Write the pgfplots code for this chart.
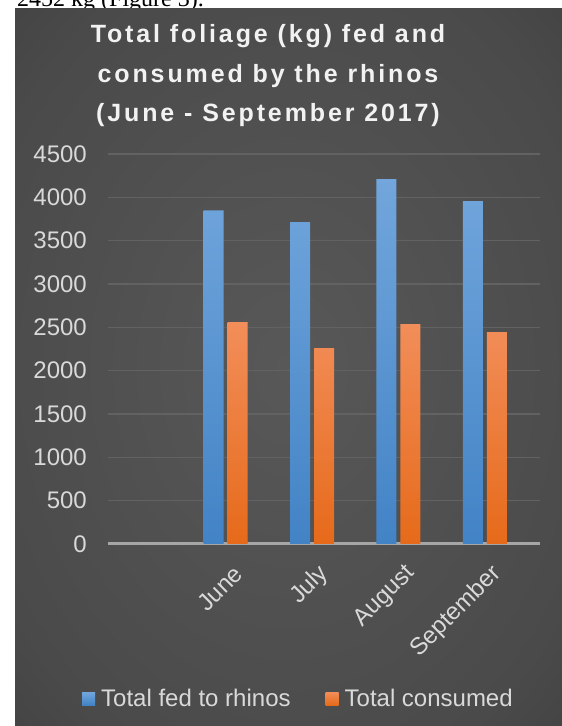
\documentclass[border=0pt]{standalone}
\usepackage{fontspec}
\setmainfont{Liberation Sans}
\newfontfamily\seriffont{Liberation Serif}
\newfontfamily\titlefont{Liberation Sans}[LetterSpace=11.5]
\usepackage{pgfplots}
\pgfplotsset{compat=1.18}
\definecolor{bg0}{RGB}{88,88,88}
\definecolor{bg1}{RGB}{74,74,74}
\definecolor{bg2}{RGB}{54,54,54}
\definecolor{bg3}{RGB}{40,40,40}
\definecolor{txt}{RGB}{217,217,217}
\definecolor{gridc}{RGB}{98,98,98}
\definecolor{axisc}{RGB}{166,166,166}
\definecolor{blueT}{RGB}{114,166,220}
\definecolor{blueB}{RGB}{66,131,198}
\definecolor{orT}{RGB}{242,142,90}
\definecolor{orB}{RGB}{230,106,26}
\pgfdeclareradialshading{chartbg}{\pgfpoint{0bp}{0bp}}{color(0bp)=(bg0); color(30bp)=(bg1); color(50bp)=(bg2); color(72bp)=(bg3)}
\begin{document}
\begin{tikzpicture}[x=1pt,y=1pt]
\fill[white] (0,0) rectangle (562,726);
\begin{scope}
\clip (0,0) rectangle (562,726);
\node[anchor=base west, inner sep=0pt, font=\seriffont\fontsize{24}{28}\selectfont] at (17,719) {2452 kg (Figure 3).};
\end{scope}
\shade[shading=chartbg] (15,0) rectangle (562,717);
\begin{scope}[every node/.style={anchor=base, inner sep=0pt, text=white!95!black, font=\titlefont\bfseries\fontsize{25}{30}\selectfont}]
\node at (268,683) {Total foliage (kg) fed and};
\node at (268,643.5) {consumed by the rhinos};
\node at (268,604) {(June - September 2017)};
\end{scope}
\begin{axis}[
  width=432pt, height=390pt, scale only axis,
  at={(108pt,182pt)}, anchor=south west,
  xmin=-0.5, xmax=4.5, ymin=0, ymax=4500,
  xtick={1,2,3,4}, xticklabels={June,July,August,September},
  ytick={0,500,...,4500},
  axis x line*=bottom, axis y line*=left,
  x axis line style={axisc, line width=3pt, -},
  y axis line style={draw=none},
  major tick length=0pt, tick style={draw=none},
  ymajorgrids=true,
  grid style={gridc, line width=1.5pt},
  /pgf/number format/assume math mode=true,
  /pgf/number format/1000 sep={},
  tick label style={font=\fontsize{24}{28}\selectfont, text=txt},
  yticklabel style={anchor=east, inner sep=0pt, xshift=-21pt},
  xticklabel style={inner sep=0pt, xshift=1pt, yshift=-26pt, rotate=45, anchor=east},
  legend style={at={(-0.0602,-0.3962)}, anchor=west, draw=none, fill=none,
    text=txt, font=\fontsize{24}{28}\selectfont, inner sep=0pt,
    nodes={inner sep=0pt},
    legend columns=2,
    /tikz/every odd column/.append style={column sep=6pt},
    /tikz/every even column/.append style={column sep=35pt}},
  legend image code/.code={\path[#1,draw=none] (0pt,-6.5pt) rectangle (13pt,6.5pt);},
]
\addplot[ybar, bar width=20pt, bar shift=-24pt, draw=none, top color=blueT, bottom color=blueB] coordinates {(1,3850) (2,3715) (3,4211) (4,3957)};
\addlegendentry{Total fed to rhinos}
\addplot[ybar, bar width=20pt, bar shift=0pt, draw=none, top color=orT, bottom color=orB] coordinates {(1,2561) (2,2261) (3,2538) (4,2446)};
\addlegendentry{Total consumed}
\end{axis}
\pgfresetboundingbox
\useasboundingbox (0,0) rectangle (562,726);
\end{tikzpicture}
\end{document}
